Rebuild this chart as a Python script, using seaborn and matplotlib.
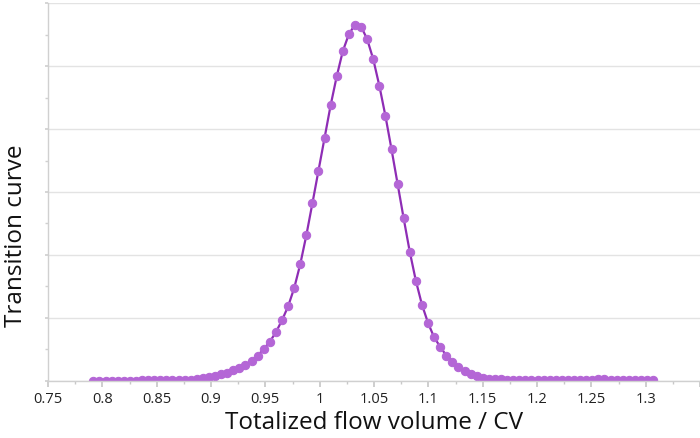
import matplotlib
matplotlib.use("Agg")
import matplotlib.pyplot as plt
import matplotlib.ticker as mticker
import numpy as np
import pandas as pd
import seaborn as sns

# Data
flow_volume = [
    0.7917, 0.7973, 0.8029, 0.8085, 0.8141, 0.8197, 0.8253, 0.8309, 0.8365, 0.8421,
    0.8477, 0.8533, 0.8589, 0.8645, 0.8701, 0.8757, 0.8813, 0.8869, 0.8925, 0.8981,
    0.9037, 0.9093, 0.9149, 0.9205, 0.9261, 0.9317, 0.9373, 0.9429, 0.9485, 0.9541,
    0.9597, 0.9653, 0.9709, 0.9765, 0.9821, 0.9877, 0.9933, 0.9989, 1.0045, 1.0101,
    1.0157, 1.0213, 1.0269, 1.0325, 1.0381, 1.0437, 1.0493, 1.0549, 1.0605, 1.0661,
    1.0717, 1.0773, 1.0829, 1.0885, 1.0941, 1.0997, 1.1053, 1.1109, 1.1165, 1.1221,
    1.1277, 1.1333, 1.1389, 1.1445, 1.1501, 1.1557, 1.1613, 1.1669, 1.1725, 1.1781,
    1.1837, 1.1893, 1.1949, 1.2005, 1.2061, 1.2117, 1.2173, 1.2229, 1.2285, 1.2341,
    1.2397, 1.2453, 1.2509, 1.2565, 1.2621, 1.2677, 1.2733, 1.2789, 1.2845, 1.2901,
    1.2957, 1.3013, 1.3069,
]
transition = [
    0.002, 0.002, 0.002, 0.002, 0.003, 0.003, 0.003, 0.003, 0.004, 0.004,
    0.005, 0.005, 0.006, 0.007, 0.008, 0.010, 0.015, 0.025, 0.040, 0.055,
    0.075, 0.100, 0.130, 0.165, 0.200, 0.250, 0.320, 0.400, 0.500, 0.620,
    0.770, 0.960, 1.180, 1.470, 1.850, 2.310, 2.820, 3.340, 3.860, 4.380,
    4.840, 5.240, 5.510, 5.660, 5.630, 5.430, 5.110, 4.690, 4.210, 3.680,
    3.130, 2.580, 2.050, 1.590, 1.210, 0.920, 0.690, 0.540, 0.400, 0.300,
    0.210, 0.150, 0.100, 0.070, 0.048, 0.035, 0.028, 0.022, 0.018, 0.015,
    0.012, 0.010, 0.010, 0.010, 0.010, 0.010, 0.010, 0.010, 0.011, 0.012,
    0.014, 0.016, 0.018, 0.020, 0.020, 0.018, 0.016, 0.014, 0.012, 0.010,
    0.010, 0.010, 0.010,
]

df = pd.DataFrame({"volume": flow_volume, "curve": transition})

sns.set_theme(style="white")
plt.rcParams["font.family"] = ["Open Sans", "DejaVu Sans"]

fig = plt.figure(figsize=(7, 4.38), dpi=100)
ax = fig.add_axes([0.0686, 0.1308, 0.9314, 0.8617])

sns.lineplot(data=df, x="volume", y="curve", ax=ax, color="#8e2db5",
             linewidth=1.6, marker="o", markersize=6,
             markerfacecolor="#b466d6", markeredgecolor="#b466d6")

ax.set_xlim(0.75, 1.35)
ax.set_ylim(0, 6)

ax.xaxis.set_major_locator(mticker.MultipleLocator(0.05))
ax.xaxis.set_minor_locator(mticker.MultipleLocator(0.025))
ax.xaxis.set_major_formatter(mticker.FuncFormatter(lambda v, p: f"{v:g}" if v < 1.34 else ""))
ax.yaxis.set_major_locator(mticker.MultipleLocator(1))
ax.yaxis.set_minor_locator(mticker.MultipleLocator(0.5))
ax.set_yticklabels([])

ax.grid(axis="y", color="#e3e3e3", linewidth=1)
ax.grid(axis="x", visible=False)

for side in ["top", "right"]:
    ax.spines[side].set_visible(False)
for side in ["left", "bottom"]:
    ax.spines[side].set_color("#d0d0d0")
    ax.spines[side].set_linewidth(1)

ax.tick_params(axis="x", which="major", bottom=True, length=4, color="#c8c8c8",
               labelsize=10.5, labelcolor="#222222", pad=4)
ax.tick_params(axis="x", which="minor", bottom=True, length=2, color="#c8c8c8")
ax.tick_params(axis="y", which="both", left=True, length=2, color="#d0d0d0")

ax.set_xlabel("Totalized flow volume / CV", fontsize=17.5, color="#111111", labelpad=3)
ax.set_ylabel("Transition curve", fontsize=17.5, color="#111111")
ax.yaxis.set_label_coords(-0.031, 0.383)

fig.savefig("out.png", dpi=100)
